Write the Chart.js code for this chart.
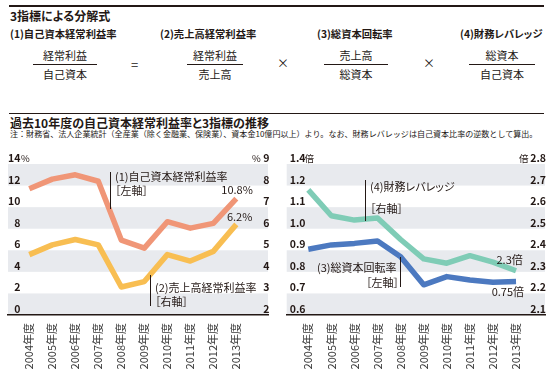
<!DOCTYPE html>
<html lang="ja">
<head>
<meta charset="UTF-8">
<title>過去10年度の自己資本経常利益率と3指標の推移</title>
<script src="https://cdn.jsdelivr.net/npm/chart.js"></script>
<style>
  body {
    margin: 0;
    width: 553px;
    height: 371px;
    position: relative;
    overflow: hidden;
    background: #fff;
    font-family: "Noto Sans CJK JP", sans-serif;
    color: #231815;
    font-feature-settings: "palt";
  }
  .t { position: absolute; white-space: nowrap; line-height: 1; }
  .b { font-weight: bold; }
  .rule { position: absolute; left: 9px; width: 535px; height: 1.5px; background: #231815; }
  .frac { position: absolute; text-align: center; font-size: 11px; line-height: 1; }
  .frac .bar { height: 1px; background: #231815; margin: 3px 0 4px; }
  .lead { position: absolute; width: 1px; background: #231815; }
  .ann { font-size: 11px; }
  .unit { font-size: 9.5px; }
  .note { font-size: 8.05px; font-feature-settings: normal; }
  canvas { position: absolute; }
</style>
</head>
<body>
<div class="rule" style="top:5px"></div>
<div class="t b" style="left:10px;top:10px;font-size:12px">3指標による分解式</div>

<div class="t b" style="left:10px;top:29px;font-size:10.3px">(1)自己資本経常利益率</div>
<div class="t b" style="left:160px;top:29px;font-size:10.3px">(2)売上高経常利益率</div>
<div class="t b" style="left:317px;top:29px;font-size:10.3px">(3)総資本回転率</div>
<div class="t b" style="left:460px;top:29px;font-size:10.3px">(4)財務レバレッジ</div>

<div class="frac" style="left:33px;top:50px;width:64px">経常利益<div class="bar"></div>自己資本</div>
<div class="t" style="left:131px;top:58px;font-size:13px">=</div>
<div class="frac" style="left:187px;top:50px;width:56px">経常利益<div class="bar"></div>売上高</div>
<div class="t" style="left:277px;top:57px;font-size:12px">×</div>
<div class="frac" style="left:324px;top:50px;width:64px">売上高<div class="bar"></div>総資本</div>
<div class="t" style="left:423px;top:57px;font-size:12px">×</div>
<div class="frac" style="left:469px;top:50px;width:66px">総資本<div class="bar"></div>自己資本</div>

<div class="rule" style="top:112.5px"></div>
<div class="t b" style="left:10px;top:117px;font-size:12px">過去10年度の自己資本経常利益率と3指標の推移</div>
<div class="t note" style="left:10px;top:129.5px">注：財務省、法人企業統計（全産業（除く金融業、保険業）、資本金10億円以上）より。なお、財務レバレッジは自己資本比率の逆数として算出。</div>

<canvas id="leftChart" width="275" height="226" style="left:0;top:145px"></canvas>
<canvas id="rightChart" width="278" height="226" style="left:275px;top:145px"></canvas>

<!-- axis units -->
<div class="t unit" style="left:21px;top:153.5px">%</div>
<div class="t unit" style="left:252px;top:153.5px">%</div>
<div class="t unit" style="left:304.5px;top:154px">倍</div>
<div class="t unit" style="left:519px;top:154px">倍</div>

<!-- annotations -->
<div class="lead" style="left:110px;top:172px;height:37px"></div>
<div class="t ann" style="left:115px;top:171px">(1)自己資本経常利益率</div>
<div class="t ann" style="left:115px;top:185px">［左軸］</div>

<div class="lead" style="left:150px;top:275px;height:31px"></div>
<div class="t ann" style="left:155px;top:282px">(2)売上高経常利益率</div>
<div class="t ann" style="left:155px;top:295.5px">［右軸］</div>

<div class="lead" style="left:365px;top:180px;height:41px"></div>
<div class="t ann" style="left:370px;top:181px">(4)財務レバレッジ</div>
<div class="t ann" style="left:370px;top:203px">［右軸］</div>

<div class="lead" style="left:400px;top:257px;height:30px"></div>
<div class="t ann" style="left:317px;top:262px">(3)総資本回転率</div>
<div class="t ann" style="left:366px;top:277px">［左軸］</div>

<script>
// ---- data ----
const years = ['2004年度', '2005年度', '2006年度', '2007年度', '2008年度',
               '2009年度', '2010年度', '2011年度', '2012年度', '2013年度'];

// (1) 自己資本経常利益率 (%), left axis of left chart
const roe = [11.7, 12.6, 13.0, 12.4, 6.95, 6.2, 8.65, 8.05, 8.5, 10.8];
// (2) 売上高経常利益率 (%), right axis of left chart
const salesMargin = [4.8, 5.25, 5.5, 5.25, 3.3, 3.55, 4.8, 4.5, 4.95, 6.2];
// (3) 総資本回転率 (倍), left axis of right chart
const assetTurnover = [0.905, 0.925, 0.932, 0.943, 0.87, 0.74, 0.778, 0.762, 0.752, 0.755];
// (4) 財務レバレッジ (倍), right axis of right chart
const leverage = [2.68, 2.56, 2.54, 2.55, 2.45, 2.36, 2.34, 2.375, 2.345, 2.305];

const roeTicks = [0, 2, 4, 6, 8, 10, 12, 14];
const marginTicks = [2, 3, 4, 5, 6, 7, 8, 9];
// top gridline of the turnover axis is an axis break, labelled 1.4
const turnoverTicks = [0.6, 0.7, 0.8, 0.9, 1.0, 1.1, 1.2, 1.3];
const turnoverTickLabels = ['0.6', '0.7', '0.8', '0.9', '1.0', '1.1', '1.2', '1.4'];
const leverageTicks = [2.1, 2.2, 2.3, 2.4, 2.5, 2.6, 2.7, 2.8];

const endLabels = {
  roe: '10.8%', salesMargin: '6.2%', assetTurnover: '0.75倍', leverage: '2.3倍'
};

// ---- helpers ----
const FONT = '"Noto Sans CJK JP", sans-serif';
const INK = '#231815';
const toPoints = arr => arr.map((v, i) => ({ x: i, y: v }));

// alternate grey bands between gridlines
const bandsPlugin = {
  id: 'bands',
  beforeDraw(chart) {
    const { ctx, chartArea: a } = chart;
    const y = chart.scales.yL;
    ctx.save();
    ctx.fillStyle = '#e8eaee';
    for (let i = 0; i + 1 < y.ticks.length; i += 2) {
      const y0 = y.getPixelForValue(y.ticks[i].value);
      const y1 = y.getPixelForValue(y.ticks[i + 1].value);
      ctx.fillRect(a.left, y1, a.right - a.left, y0 - y1);
    }
    ctx.restore();
  }
};

// value label at the last point of a dataset
const endLabelPlugin = {
  id: 'endLabel',
  afterDatasetsDraw(chart) {
    const { ctx } = chart;
    ctx.save();
    ctx.font = '11px ' + FONT;
    ctx.fillStyle = INK;
    ctx.textAlign = 'right';
    ctx.textBaseline = 'middle';
    chart.data.datasets.forEach((ds, i) => {
      if (!ds.endText) return;
      const pts = chart.getDatasetMeta(i).data;
      const p = pts[pts.length - 1];
      ctx.fillText(ds.endText, p.x + ds.endDx, p.y + ds.endDy);
    });
    ctx.restore();
  }
};

function yAxis(position, min, max, ticks, labels, opts) {
  return {
    position, min, max,
    afterBuildTicks: s => { s.ticks = ticks.map(v => ({ value: v })); },
    afterFit: s => { s.width = 0; },
    grid: { display: false },
    border: { display: false },
    ticks: Object.assign({
      mirror: true,
      labelOffset: -6,
      color: INK,
      font: { family: FONT, size: 10.5, weight: 'bold' },
      callback: (v, i) => labels ? labels[i] : String(v)
    }, opts)
  };
}

function xAxis(min, max) {
  return {
    type: 'linear', min, max,
    afterBuildTicks: s => { s.ticks = years.map((_, i) => ({ value: i })); },
    afterFit: s => { s.height = 56; },
    grid: { display: false },
    border: { display: true, color: INK, width: 1.5 },
    ticks: {
      autoSkip: false, minRotation: 90, maxRotation: 90, padding: 0,
      color: '#3a3a3a',
      font: { family: FONT, size: 11 },
      callback: v => years[v]
    }
  };
}

function lineSet(values, color, axis, endText, dx, dy) {
  return {
    data: toPoints(values),
    yAxisID: axis,
    borderColor: color,
    borderWidth: 5.5,
    borderJoinStyle: 'round',
    borderCapStyle: 'butt',
    pointRadius: 0,
    tension: 0,
    fill: false,
    endText, endDx: dx, endDy: dy
  };
}

const common = {
  responsive: false,
  animation: false,
  plugins: { legend: { display: false }, tooltip: { enabled: false } }
};

new Chart(document.getElementById('leftChart'), {
  type: 'line',
  data: {
    datasets: [
      lineSet(roe, '#f09677', 'yL', endLabels.roe, 16.5, -8.3),
      lineSet(salesMargin, '#f8be52', 'yR', endLabels.salesMargin, 16, -7.3)
    ]
  },
  options: Object.assign({}, common, {
    layout: { padding: { left: 8, right: 7, top: 19, bottom: 0 } },
    scales: {
      x: xAxis(-0.926, 10.378),
      yL: yAxis('left', 0, 14, roeTicks, null, { crossAlign: 'far', padding: 0 }),
      yR: yAxis('right', 2, 9, marginTicks, null, { crossAlign: 'near', padding: 1.5 })
    }
  }),
  plugins: [bandsPlugin, endLabelPlugin]
});

new Chart(document.getElementById('rightChart'), {
  type: 'line',
  data: {
    datasets: [
      lineSet(assetTurnover, '#4c79c0', 'yL', endLabels.assetTurnover, 8, 10),
      lineSet(leverage, '#7fccb6', 'yR', endLabels.leverage, 6.7, -11)
    ]
  },
  options: Object.assign({}, common, {
    layout: { padding: { left: 11.7, right: 8, top: 19, bottom: 0 } },
    scales: {
      x: xAxis(-0.935, 10.255),
      yL: yAxis('left', 0.6, 1.3, turnoverTicks, turnoverTickLabels, { crossAlign: 'near', padding: 3 }),
      yR: yAxis('right', 2.1, 2.8, leverageTicks, leverageTicks.map(v => v.toFixed(1)), { crossAlign: 'near', padding: 1 })
    }
  }),
  plugins: [bandsPlugin, endLabelPlugin]
});
</script>
</body>
</html>
